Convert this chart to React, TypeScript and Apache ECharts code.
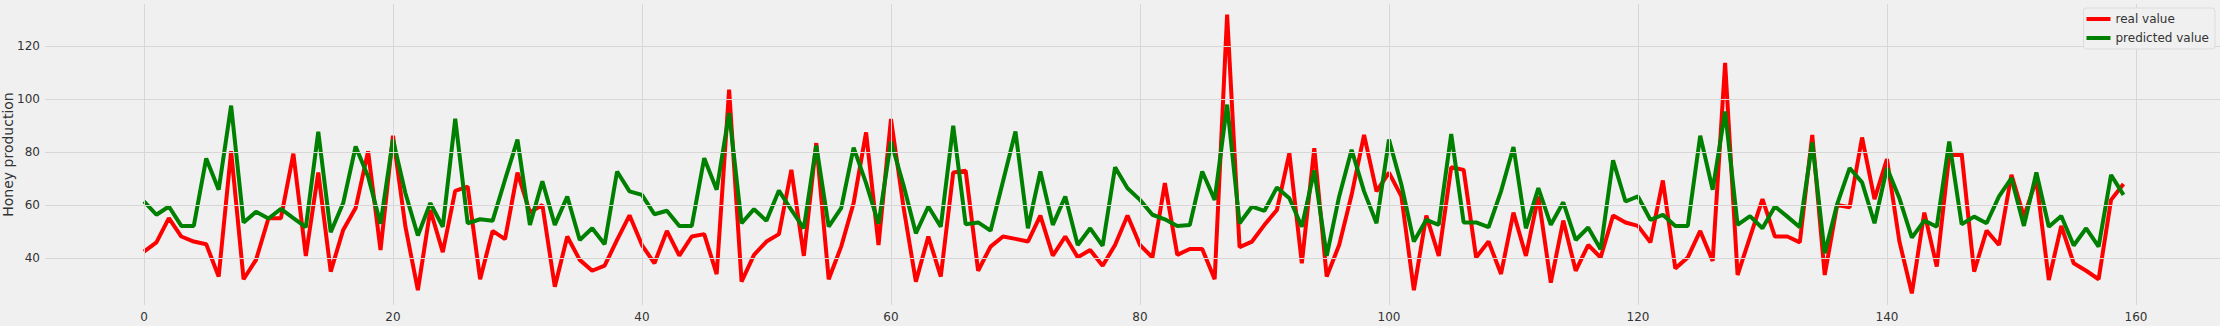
import React, { useEffect, useRef } from "react";
import * as echarts from "echarts";

const xTicks = [0, 20, 40, 60, 80, 100, 120, 140, 160];
const yTicks = [40, 60, 80, 100, 120];
const seriesNames = ["real value", "predicted value"];

const realValues = [
  42.5, 46, 55.1, 48.2, 46.3, 45.3, 33.1, 80.3, 32.1, 39.4,
  55.1, 55.1, 79.4, 40.9, 72.3, 35, 50.7, 58.9, 80.3, 43.1,
  86.2, 51.9, 28, 58.2, 42.3, 65.4, 67, 32.1, 50.3, 47.2,
  72.3, 57.3, 60.1, 29.3, 48.2, 39.4, 35.3, 37.2, 46.9, 56.2,
  45, 38.1, 50.3, 41, 48.2, 49.1, 34, 103.5, 31.2, 41.3,
  46.3, 49.1, 73.3, 40.9, 83.4, 32.1, 44.4, 60.8, 87.4, 45,
  92.5, 59.5, 31.2, 48.2, 33.1, 72.3, 73, 35.3, 44.4, 48.2,
  47.3, 46.3, 56.1, 41, 48.2, 40.4, 43.1, 37.2, 45, 56.1,
  45, 40.3, 68.3, 41.3, 43.5, 43.5, 32.1, 131.8, 44.2, 46.3,
  52.6, 58.2, 79.6, 38.1, 81.5, 33.1, 45, 63.9, 86.5, 65.2,
  72.3, 63.3, 28, 56.1, 40.9, 74.3, 73.3, 40.3, 46.3, 34.1,
  57.2, 40.9, 63.3, 30.8, 54.2, 35.3, 45, 40.3, 56.1, 53.5,
  52.2, 46, 69.3, 36.2, 40.3, 50.3, 39, 113.6, 33.7, 48,
  62.3, 48.2, 48.2, 46, 86.5, 33.7, 60.1, 59.2, 85.5, 62.3,
  77.4, 46.3, 26.8, 57.2, 36.9, 78.7, 79.4, 35, 50.4, 45,
  71.4, 55.7, 69.6, 31.8, 52.2, 38.1, 35.3, 32.1, 62, 68,
];

const predictedValues = [
  61.4, 56.4, 59.5, 52.2, 52.2, 77.6, 65.8, 97.5, 53.5, 57.5,
  55, 58.6, 55.1, 51.7, 87.7, 49.8, 60.8, 82.1, 70.8, 53,
  84.7, 64.5, 48.6, 60.8, 51.9, 92.6, 53.2, 54.7, 54.1, 69.6,
  84.7, 52.6, 69, 52.6, 63.3, 46.9, 51.3, 45.3, 72.7, 65.2,
  63.9, 56.6, 57.9, 52.2, 52.2, 77.7, 65.8, 94.7, 53.2, 58.5,
  54.1, 65.5, 58.2, 51.3, 82.5, 51.9, 58.9, 81.7, 68.3, 53,
  84, 67.7, 49.4, 59.5, 51.9, 89.9, 52.8, 53.5, 50.4, 69,
  87.8, 51.3, 72.7, 52.6, 63.3, 45, 51.3, 44.7, 74.3, 66.4,
  62, 56.4, 54.7, 52.2, 52.5, 72.7, 62, 97.9, 53.2, 59.5,
  57.9, 66.7, 62.6, 51.9, 73.1, 40.9, 63.3, 80.9, 65.2, 53.2,
  84.7, 67.7, 46.3, 54.5, 52.6, 86.8, 53.5, 53.5, 51.7, 65.2,
  81.9, 51.3, 66.4, 52.6, 61.1, 46.9, 51.6, 43.4, 76.9, 61.4,
  63.3, 54.5, 56.4, 52.2, 52.2, 86.2, 65.8, 95.3, 52.6, 55.9,
  51.3, 59.5, 55.7, 51.7, 83.6, 41.9, 60.4, 74, 68.6, 53.2,
  74, 62.6, 47.8, 54.2, 51.9, 84, 52.8, 55.7, 53.2, 63.3,
  70.2, 52.2, 72.3, 51.9, 55.9, 44.8, 51.3, 44.4, 71.4, 63.9,
];

const FONT = "DejaVu Sans";
const TEXT = "#333333";
const GRID = "#d7d7d7";

export default function App() {
  const ref = useRef<HTMLDivElement>(null);

  useEffect(() => {
    if (!ref.current) return;
    const chart = echarts.init(ref.current, null, { renderer: "svg" });
    const toPairs = (arr: number[]) => arr.map((v, i) => [i, v]);
    const gridMarks = [
      ...xTicks.map((v) => ({ xAxis: v })),
      ...yTicks.map((v) => ({ yAxis: v })),
    ];
    chart.setOption({
      animation: false,
      backgroundColor: "#f0f0f0",
      textStyle: { fontFamily: FONT },
      grid: {
        left: 45,
        right: 0,
        top: 4,
        bottom: 21,
        containLabel: false,
        outerBoundsMode: "none",
      },
      legend: {
        data: seriesNames,
        orient: "vertical",
        right: 5,
        top: 8,
        z: 20,
        icon: "rect",
        itemWidth: 24,
        itemHeight: 4,
        itemGap: 7,
        backgroundColor: "#f0f0f0",
        borderColor: "#dcdcdc",
        borderWidth: 1,
        borderRadius: 3,
        padding: [5, 6, 5, 3],
        textStyle: { fontFamily: FONT, fontSize: 12, color: TEXT },
      },
      xAxis: {
        type: "value",
        min: -7.95,
        max: 166.75,
        axisLine: { show: false },
        axisTick: { show: false, customValues: xTicks },
        splitLine: { show: false },
        axisLabel: {
          customValues: xTicks,
          fontFamily: FONT,
          fontSize: 12,
          color: TEXT,
          margin: 6,
        },
      },
      yAxis: {
        type: "value",
        min: 22.4,
        max: 135.8,
        name: "Honey production",
        nameLocation: "middle",
        nameGap: 30,
        nameMoveOverlap: false,
        nameTextStyle: { fontFamily: FONT, fontSize: 14, color: TEXT },
        axisLine: { show: false },
        axisTick: { show: false, customValues: yTicks },
        splitLine: { show: false },
        axisLabel: {
          customValues: yTicks,
          fontFamily: FONT,
          fontSize: 12,
          color: TEXT,
          margin: 5,
        },
      },
      series: [
        {
          name: "gridlines",
          type: "line",
          data: [],
          z: 1,
          silent: true,
          markLine: {
            silent: true,
            symbol: "none",
            label: { show: false },
            lineStyle: { color: GRID, width: 1, type: "solid" },
            data: gridMarks,
          },
        },
        {
          name: seriesNames[0],
          type: "line",
          data: toPairs(realValues),
          symbol: "none",
          z: 3,
          lineStyle: { color: "#ff0000", width: 4 },
          itemStyle: { color: "#ff0000" },
        },
        {
          name: seriesNames[1],
          type: "line",
          data: toPairs(predictedValues),
          symbol: "none",
          z: 4,
          lineStyle: { color: "#008000", width: 4 },
          itemStyle: { color: "#008000" },
        },
      ],
    });
    return () => chart.dispose();
  }, []);

  return (
    <div
      ref={ref}
      style={{ position: "absolute", left: 0, top: 0, width: 2220, height: 326 }}
    />
  );
}
